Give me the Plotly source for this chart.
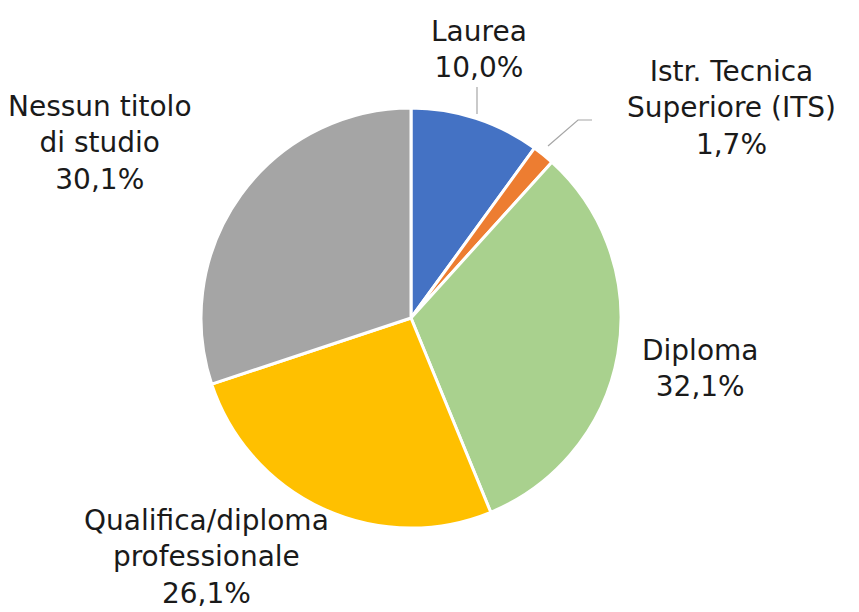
import plotly.graph_objects as go

# dati
categorie = ["Laurea", "Istr. Tecnica<br>Superiore (ITS)", "Diploma",
             "Qualifica/diploma<br>professionale", "Nessun titolo<br>di studio"]
valori = [10.0, 1.7, 32.1, 26.1, 30.1]
colori = ["#4472C4", "#ED7D31", "#A9D18E", "#FFC000", "#A5A5A5"]

W, H = 859, 612
OFF = 8  # margine della pagina html

# posizione (pixel) del centro di ciascuna etichetta
pos_etichette = [(479, 50), (731, 108), (700, 368), (206, 557), (100, 143)]


def px(x):
    return (x - OFF) / W


def py(y):
    return 1 - (y - OFF) / H


fig = go.Figure(go.Pie(
    labels=categorie,
    values=valori,
    sort=False,
    direction="clockwise",
    rotation=0,
    marker=dict(colors=colori, line=dict(color="white", width=3)),
    textinfo="none",
    hoverinfo="label+percent",
    domain=dict(x=[px(411 - 210), px(411 + 210)],
                y=[py(318 + 210), py(318 - 210)]),
))

for cat, val, (x_, y_) in zip(categorie, valori, pos_etichette):
    perc = f"{val:.1f}".replace(".", ",") + "%"
    fig.add_annotation(
        text=f"{cat}<br>{perc}", x=px(x_), y=py(y_), xref="paper", yref="paper",
        xanchor="center", yanchor="middle", showarrow=False,
        font=dict(family="DejaVu Sans", size=28, color="#1a1a1a"),
    )

# linee guida
linea = dict(color="#A6A6A6", width=1.2)
fig.add_shape(type="line", xref="paper", yref="paper",
              x0=px(477), y0=py(87), x1=px(477), y1=py(114), line=linea)
fig.add_shape(type="path", xref="paper", yref="paper",
              path=f"M {px(548)} {py(146)} L {px(578)} {py(120)} L {px(592)} {py(120)}",
              line=linea)

fig.update_layout(
    width=W, height=H,
    margin=dict(l=0, r=0, t=0, b=0),
    showlegend=False,
    paper_bgcolor="white",
    plot_bgcolor="white",
)

fig.write_html("out.html")
